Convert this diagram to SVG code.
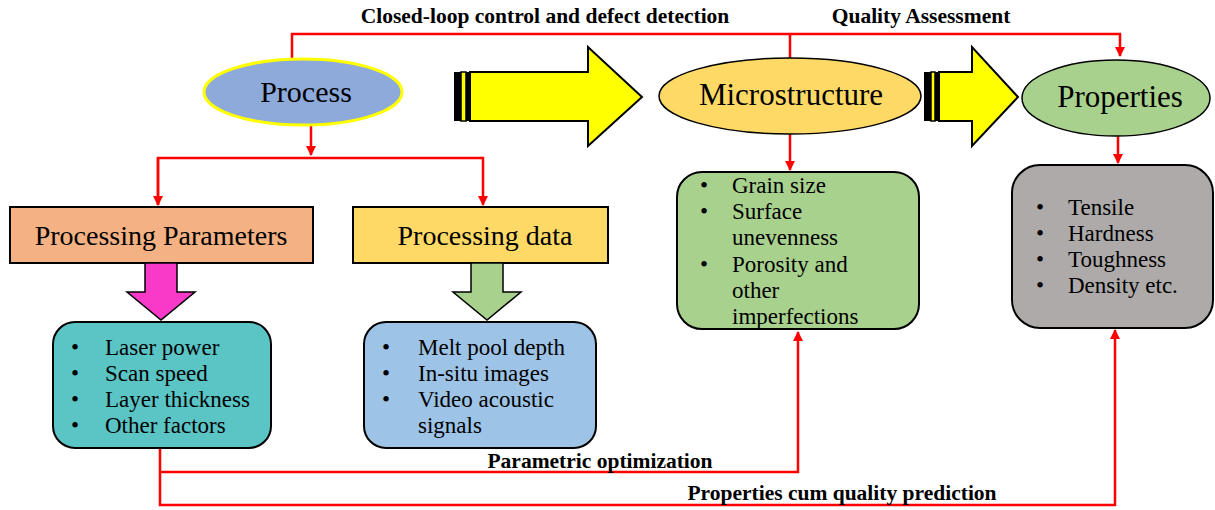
<svg xmlns="http://www.w3.org/2000/svg" width="1215" height="510" viewBox="0 0 1215 510">
<defs>
<marker id="ah" viewBox="0 0 10 10" refX="9" refY="5" markerWidth="4" markerHeight="4" orient="auto" markerUnits="strokeWidth">
<path d="M0,0 L10,5 L0,10 z" fill="#ff0000"/>
</marker>
<style>
.lbl{font-family:"Liberation Serif","Times New Roman",serif;fill:#000}
.big{font-size:31px;text-anchor:middle}
.hdr{font-size:28px;text-anchor:middle}
.bul{font-size:23px}
.bold{font-size:21.5px;font-weight:bold;text-anchor:middle}
.con{fill:none;stroke:#ff0000;stroke-width:2.5}
.box{stroke:#000;stroke-width:2}
.blk{fill:#000}
</style>
</defs>
<rect width="1215" height="510" fill="#fff"/>

<g id="connectors">
<polyline class="con" points="292,60 292,34 1120,34 1120,56" marker-end="url(#ah)"/>
<line class="con" x1="790" y1="34" x2="790" y2="58"/>
<line class="con" x1="311" y1="125" x2="311" y2="155" marker-end="url(#ah)"/>
<polyline class="con" points="158,205 158,158 483,158 483,205" marker-end="url(#ah)"/>
<line class="con" x1="158" y1="158" x2="158" y2="205" marker-end="url(#ah)"/>
<line class="con" x1="790" y1="134" x2="790" y2="170" marker-end="url(#ah)"/>
<line class="con" x1="1118" y1="136" x2="1118" y2="163" marker-end="url(#ah)"/>
<polyline class="con" points="160,448 160,505 1115,505 1115,330" marker-end="url(#ah)"/>
<polyline class="con" points="160,472 798,472 798,332" marker-end="url(#ah)"/>
</g>

<g id="labels">
<text class="lbl bold" x="545" y="23">Closed-loop control and defect detection</text>
<text class="lbl bold" x="921" y="23">Quality Assessment</text>
<text class="lbl bold" x="600" y="468">Parametric optimization</text>
<text class="lbl bold" x="842" y="500">Properties cum quality prediction</text>
</g>

<g id="process">
<ellipse cx="303" cy="92" rx="99" ry="33" fill="#8eaadb" stroke="#ffff00" stroke-width="3"/>
<text class="lbl big" x="306" y="102" style="font-size:30px">Process</text>
</g>

<g id="arrow1">
<rect x="454" y="72" width="7" height="49" class="blk"/>
<rect x="461" y="72" width="5" height="49" fill="#ffff00" stroke="#000" stroke-width="1.5"/>
<rect x="466" y="72" width="4" height="49" class="blk"/>
<polygon points="470,72 588,72 588,47 642,97 588,146 588,121 470,121" fill="#ffff00" stroke="#000" stroke-width="2"/>
</g>

<g id="microstructure">
<ellipse cx="790" cy="96" rx="131" ry="38" fill="#ffd966" stroke="#000" stroke-width="1.5"/>
<text class="lbl big" x="791" y="105">Microstructure</text>
</g>

<g id="arrow2">
<rect x="924" y="72" width="7" height="49" class="blk"/>
<rect x="931" y="72" width="4" height="49" fill="#ffff00" stroke="#000" stroke-width="1.5"/>
<rect x="935" y="72" width="4" height="49" class="blk"/>
<polygon points="939,72 972,72 972,47 1018,97 972,146 972,121 939,121" fill="#ffff00" stroke="#000" stroke-width="2"/>
</g>

<g id="properties">
<ellipse cx="1116" cy="98" rx="94" ry="38" fill="#a9d18e" stroke="#000" stroke-width="1.5"/>
<text class="lbl big" x="1120" y="107">Properties</text>
</g>

<g id="processing-parameters">
<rect x="10" y="207" width="303" height="56" fill="#f4b183" class="box"/>
<text class="lbl hdr" x="161" y="245">Processing Parameters</text>
</g>

<g id="processing-data">
<rect x="353" y="207" width="255" height="56" fill="#ffd966" class="box"/>
<text class="lbl hdr" x="485" y="245">Processing data</text>
</g>

<g id="pink-arrow">
<polygon points="145,263 177,263 177,292 195,292 161,320 127,292 145,292" fill="#f939c8" stroke="#000" stroke-width="1.5"/>
</g>

<g id="green-arrow">
<polygon points="471,263 503,263 503,292 521,292 487,320 453,292 471,292" fill="#a9d18e" stroke="#000" stroke-width="1.5"/>
</g>

<g id="param-list">
<rect x="53" y="322" width="218" height="126" rx="22" fill="#5bc5c6" class="box"/>
<text class="lbl bul" x="71" y="355">•</text><text class="lbl bul" x="105" y="355">Laser power</text>
<text class="lbl bul" x="71" y="381">•</text><text class="lbl bul" x="105" y="381">Scan speed</text>
<text class="lbl bul" x="71" y="407">•</text><text class="lbl bul" x="105" y="407">Layer thickness</text>
<text class="lbl bul" x="71" y="433">•</text><text class="lbl bul" x="105" y="433">Other factors</text>
</g>

<g id="data-list">
<rect x="364" y="322" width="232" height="126" rx="22" fill="#9dc3e6" class="box"/>
<text class="lbl bul" x="382" y="355">•</text><text class="lbl bul" x="418" y="355">Melt pool depth</text>
<text class="lbl bul" x="382" y="381">•</text><text class="lbl bul" x="418" y="381">In-situ images</text>
<text class="lbl bul" x="382" y="407">•</text><text class="lbl bul" x="418" y="407">Video acoustic</text>
<text class="lbl bul" x="418" y="433">signals</text>
</g>

<g id="micro-list">
<rect x="677" y="172" width="242" height="157" rx="25" fill="#a9d18e" class="box"/>
<text class="lbl bul" x="700" y="193">•</text><text class="lbl bul" x="732" y="193">Grain size</text>
<text class="lbl bul" x="700" y="219">•</text><text class="lbl bul" x="732" y="219">Surface</text>
<text class="lbl bul" x="732" y="245">unevenness</text>
<text class="lbl bul" x="700" y="272">•</text><text class="lbl bul" x="732" y="272">Porosity and</text>
<text class="lbl bul" x="732" y="298">other</text>
<text class="lbl bul" x="732" y="324">imperfections</text>
</g>

<g id="props-list">
<rect x="1012" y="165" width="201" height="163" rx="28" fill="#aeaaaa" class="box"/>
<text class="lbl bul" x="1036" y="215">•</text><text class="lbl bul" x="1068" y="215">Tensile</text>
<text class="lbl bul" x="1036" y="241">•</text><text class="lbl bul" x="1068" y="241">Hardness</text>
<text class="lbl bul" x="1036" y="267">•</text><text class="lbl bul" x="1068" y="267">Toughness</text>
<text class="lbl bul" x="1036" y="293">•</text><text class="lbl bul" x="1068" y="293">Density etc.</text>
</g>
</svg>
